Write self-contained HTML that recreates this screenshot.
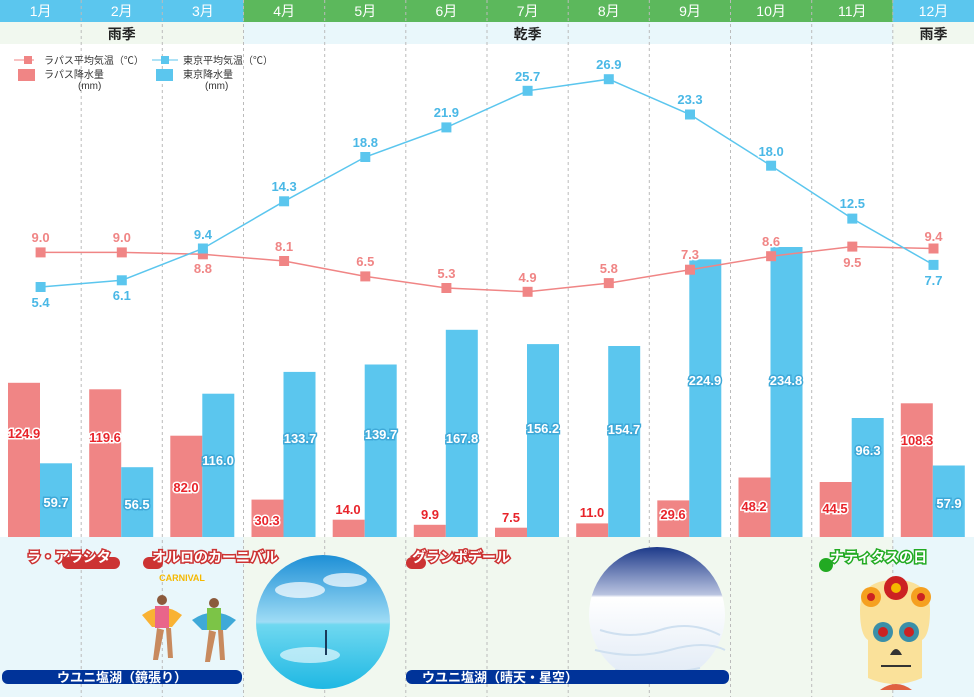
<!DOCTYPE html><html><head><meta charset="utf-8"><style>body{margin:0}svg{display:block;font-family:"Liberation Sans","Noto Sans CJK JP",sans-serif}</style></head><body>
<svg width="974" height="697" viewBox="0 0 974 697" xmlns="http://www.w3.org/2000/svg">
<defs>
<linearGradient id="sky" x1="0" y1="0" x2="0" y2="1"><stop offset="0" stop-color="#1d8fd6"/><stop offset="0.5" stop-color="#9fdcf5"/><stop offset="0.52" stop-color="#6fd8f0"/><stop offset="1" stop-color="#1fb8e3"/></linearGradient>
<linearGradient id="salt" x1="0" y1="0" x2="0" y2="1"><stop offset="0" stop-color="#1d3a8a"/><stop offset="0.35" stop-color="#b9c3e0"/><stop offset="0.37" stop-color="#ffffff"/><stop offset="1" stop-color="#dfe9f5"/></linearGradient>
</defs>
<rect width="974" height="697" fill="#fff"/>
<!-- header -->
<rect x="0" y="0" width="243.5" height="22" fill="#5bc6ee"/>
<rect x="243.5" y="0" width="649.3" height="22" fill="#5cb85c"/>
<rect x="892.8" y="0" width="81.2" height="22" fill="#5bc6ee"/>
<rect x="0" y="22" width="243.5" height="22" fill="#f1f8ef"/>
<rect x="243.5" y="22" width="649.3" height="22" fill="#e9f7fb"/>
<rect x="892.8" y="22" width="81.2" height="22" fill="#f1f8ef"/>
<!-- bottom area -->
<rect x="0" y="537" width="243.5" height="160" fill="#e9f7fb"/>
<rect x="243.5" y="537" width="649.3" height="160" fill="#f1f8ef"/>
<rect x="892.8" y="537" width="81.2" height="160" fill="#e9f7fb"/>
<g fill="#fff" font-size="14" text-anchor="middle">
<text x="40.6" y="16">1月</text><text x="121.8" y="16">2月</text><text x="202.9" y="16">3月</text><text x="284.1" y="16">4月</text><text x="365.3" y="16">5月</text><text x="446.4" y="16">6月</text><text x="527.6" y="16">7月</text><text x="608.8" y="16">8月</text><text x="690" y="16">9月</text><text x="771.1" y="16">10月</text><text x="852.3" y="16">11月</text><text x="933.5" y="16">12月</text>
</g>
<g font-size="14" font-weight="bold" fill="#222" text-anchor="middle">
<text x="121.8" y="39">雨季</text><text x="527.6" y="39">乾季</text><text x="933.5" y="39">雨季</text></g>
<!-- dashed lines -->
<g stroke="#bbb" stroke-dasharray="3,3" stroke-width="1">
<line x1="81.2" y1="0" x2="81.2" y2="697"/><line x1="162.3" y1="0" x2="162.3" y2="697"/><line x1="243.5" y1="0" x2="243.5" y2="697"/><line x1="324.7" y1="0" x2="324.7" y2="697"/><line x1="405.8" y1="0" x2="405.8" y2="697"/><line x1="487" y1="0" x2="487" y2="697"/><line x1="568.2" y1="0" x2="568.2" y2="697"/><line x1="649.3" y1="0" x2="649.3" y2="697"/><line x1="730.5" y1="0" x2="730.5" y2="697"/><line x1="811.7" y1="0" x2="811.7" y2="697"/><line x1="892.8" y1="0" x2="892.8" y2="697"/>
</g>
<!-- legend -->
<g font-size="10" fill="#333">
<line x1="14" y1="60" x2="34" y2="60" stroke="#f08585"/><rect x="24" y="56" width="8" height="8" fill="#f08585"/><text x="44" y="64">ラパス平均気温（℃）</text>
<rect x="18" y="69" width="17" height="12" fill="#f08585"/><text x="44" y="78">ラパス降水量</text><text x="78" y="89">(mm)</text>
<line x1="152" y1="60" x2="178" y2="60" stroke="#5bc6ee"/><rect x="161" y="56" width="8" height="8" fill="#5bc6ee"/><text x="183" y="64">東京平均気温（℃）</text>
<rect x="156" y="69" width="17" height="12" fill="#5bc6ee"/><text x="183" y="78">東京降水量</text><text x="205" y="89">(mm)</text>
</g>
<!-- bars: baseline 537, scale 1.235 -->
<g fill="#f08585">
<rect x="8" y="382.8" width="32" height="154.2"/><rect x="89.2" y="389.3" width="32" height="147.7"/><rect x="170.3" y="435.7" width="32" height="101.3"/><rect x="251.5" y="499.6" width="32" height="37.4"/><rect x="332.7" y="519.7" width="32" height="17.3"/><rect x="413.8" y="524.8" width="32" height="12.2"/><rect x="495" y="527.7" width="32" height="9.3"/><rect x="576.2" y="523.4" width="32" height="13.6"/><rect x="657.3" y="500.4" width="32" height="36.6"/><rect x="738.5" y="477.5" width="32" height="59.5"/><rect x="819.7" y="482" width="32" height="55"/><rect x="900.8" y="403.3" width="32" height="133.7"/>
</g>
<g fill="#5bc6ee">
<rect x="40" y="463.3" width="32" height="73.7"/><rect x="121.2" y="467.2" width="32" height="69.8"/><rect x="202.3" y="393.7" width="32" height="143.3"/><rect x="283.5" y="371.9" width="32" height="165.1"/><rect x="364.7" y="364.5" width="32" height="172.5"/><rect x="445.8" y="329.8" width="32" height="207.2"/><rect x="527" y="344.1" width="32" height="192.9"/><rect x="608.2" y="346" width="32" height="191"/><rect x="689.3" y="259.3" width="32" height="277.7"/><rect x="770.5" y="247" width="32" height="290"/><rect x="851.7" y="418" width="32" height="119"/><rect x="932.8" y="465.5" width="32" height="71.5"/>
</g>
<g font-size="13" font-weight="bold" text-anchor="middle" stroke="#fff" stroke-width="3" paint-order="stroke" fill="#e8242b">
<text x="24" y="438">124.9</text><text x="105" y="442">119.6</text><text x="186" y="492">82.0</text><text x="267" y="525">30.3</text><text x="348" y="514">14.0</text><text x="430" y="519">9.9</text><text x="511" y="522">7.5</text><text x="592" y="517">11.0</text><text x="673" y="519">29.6</text><text x="754" y="511">48.2</text><text x="835" y="513">44.5</text><text x="917" y="445">108.3</text>
</g>
<g font-size="13" font-weight="bold" text-anchor="middle" stroke="#3fa9d8" stroke-width="3" paint-order="stroke" fill="#fff">
<text x="56" y="507">59.7</text><text x="137" y="509">56.5</text><text x="218" y="465">116.0</text><text x="300" y="443">133.7</text><text x="381" y="439">139.7</text><text x="462" y="443">167.8</text><text x="543" y="433">156.2</text><text x="624" y="434">154.7</text><text x="705" y="385">224.9</text><text x="786" y="385">234.8</text><text x="868" y="455">96.3</text><text x="949" y="508">57.9</text>
</g>
<!-- lines -->
<polyline fill="none" stroke="#f08585" stroke-width="1.5" points="40.6,252.4 121.8,252.4 202.9,254.3 284.1,261 365.3,276.4 446.4,288 527.6,291.8 608.8,283.1 690,269.7 771.1,256.2 852.3,246.6 933.5,248.5"/>
<polyline fill="none" stroke="#5bc6ee" stroke-width="1.5" points="40.6,287 121.8,280.3 202.9,248.5 284.1,201.3 365.3,157 446.4,127.4 527.6,90.8 608.8,79.2 690,114.5 771.1,165.7 852.3,218.6 933.5,264.9"/>
<g fill="#f08585">
<rect x="35.6" y="247.4" width="10" height="10"/><rect x="116.8" y="247.4" width="10" height="10"/><rect x="197.9" y="249.3" width="10" height="10"/><rect x="279.1" y="256" width="10" height="10"/><rect x="360.3" y="271.4" width="10" height="10"/><rect x="441.4" y="283" width="10" height="10"/><rect x="522.6" y="286.8" width="10" height="10"/><rect x="603.8" y="278.1" width="10" height="10"/><rect x="685" y="264.7" width="10" height="10"/><rect x="766.1" y="251.2" width="10" height="10"/><rect x="847.3" y="241.6" width="10" height="10"/><rect x="928.5" y="243.5" width="10" height="10"/>
</g>
<g fill="#5bc6ee">
<rect x="35.6" y="282" width="10" height="10"/><rect x="116.8" y="275.3" width="10" height="10"/><rect x="197.9" y="243.5" width="10" height="10"/><rect x="279.1" y="196.3" width="10" height="10"/><rect x="360.3" y="152" width="10" height="10"/><rect x="441.4" y="122.4" width="10" height="10"/><rect x="522.6" y="85.8" width="10" height="10"/><rect x="603.8" y="74.2" width="10" height="10"/><rect x="685" y="109.5" width="10" height="10"/><rect x="766.1" y="160.7" width="10" height="10"/><rect x="847.3" y="213.6" width="10" height="10"/><rect x="928.5" y="259.9" width="10" height="10"/>
</g>
<g font-size="13" font-weight="bold" text-anchor="middle" fill="#f08585" stroke="#fff" stroke-width="3" paint-order="stroke">
<text x="40.6" y="242">9.0</text><text x="121.8" y="242">9.0</text><text x="202.9" y="273">8.8</text><text x="284.1" y="251">8.1</text><text x="365.3" y="266">6.5</text><text x="446.4" y="278">5.3</text><text x="527.6" y="282">4.9</text><text x="608.8" y="273">5.8</text><text x="690" y="259">7.3</text><text x="771.1" y="246">8.6</text><text x="852.3" y="267">9.5</text><text x="933.5" y="241">9.4</text>
</g>
<g font-size="13" font-weight="bold" text-anchor="middle" fill="#4ab8e6" stroke="#fff" stroke-width="3" paint-order="stroke">
<text x="40.6" y="307">5.4</text><text x="121.8" y="300">6.1</text><text x="202.9" y="239">9.4</text><text x="284.1" y="191">14.3</text><text x="365.3" y="147">18.8</text><text x="446.4" y="117">21.9</text><text x="527.6" y="81">25.7</text><text x="608.8" y="69">26.9</text><text x="690" y="104">23.3</text><text x="771.1" y="156">18.0</text><text x="852.3" y="208">12.5</text><text x="933.5" y="285">7.7</text>
</g>
<!-- events -->
<rect x="62" y="557" width="58" height="12" rx="6" fill="#cc3333"/>
<rect x="143" y="557" width="20" height="12" rx="6" fill="#cc3333"/>
<rect x="406" y="557" width="20" height="12" rx="6" fill="#cc3333"/>
<g font-size="14" font-weight="bold" fill="#fff" stroke="#cc3333" stroke-width="3" paint-order="stroke">
<text x="27" y="562">ラ・アラシタ</text><text x="152" y="562">オルロのカーニバル</text><text x="412" y="562">グランポデール</text>
</g>
<circle cx="826" cy="565" r="7" fill="#22aa22"/>
<text x="830" y="562" font-size="14" font-weight="bold" fill="#fff" stroke="#22aa22" stroke-width="3" paint-order="stroke">ナティタスの日</text>
<!-- carnival -->
<text x="182" y="581" font-size="9" font-weight="bold" fill="#f5b800" text-anchor="middle">CARNIVAL</text>
<g><circle cx="162" cy="600" r="5" fill="#8b5a3c"/><path d="M142 615 q20 -15 40 0 l-10 12 h-20z" fill="#f9b233"/><rect x="155" y="606" width="14" height="22" fill="#e9658a"/><path d="M157 628 l-4 32 h5 l6-30 z M166 628 l2 30 h5 l-2-30z" fill="#c88a5e"/></g>
<g><circle cx="214" cy="603" r="5" fill="#8b5a3c"/><path d="M192 620 q22 -15 44 0 l-10 10 h-24z" fill="#3fa9d8"/><rect x="207" y="608" width="14" height="22" fill="#7cc447"/><path d="M209 630 l-4 32 h5 l6-30 z M218 630 l2 30 h5 l-2-30z" fill="#c88a5e"/></g>
<!-- uyuni mirror -->
<circle cx="323" cy="622" r="67" fill="url(#sky)"/>
<ellipse cx="300" cy="590" rx="25" ry="8" fill="#fff" opacity="0.7"/><ellipse cx="345" cy="580" rx="22" ry="7" fill="#fff" opacity="0.7"/><ellipse cx="310" cy="655" rx="30" ry="8" fill="#fff" opacity="0.6"/>
<rect x="325" y="630" width="2" height="25" fill="#1a3a5a"/>
<!-- uyuni salt -->
<circle cx="657" cy="615" r="68" fill="url(#salt)"/>
<g stroke="#cfe0f0" fill="none" stroke-width="2"><path d="M600 630 q30 10 60 0 t60 5 M595 650 q40 10 75 0 t55 0 M615 670 q40 8 85 -2"/></g>
<!-- bars bottom -->
<rect x="2" y="670" width="240" height="14" rx="6" fill="#003399"/>
<text x="122" y="682" font-size="13" font-weight="bold" fill="#fff" text-anchor="middle">ウユニ塩湖（鏡張り）</text>
<rect x="406" y="670" width="323" height="14" rx="6" fill="#003399"/>
<text x="500" y="682" font-size="13" font-weight="bold" fill="#fff" text-anchor="middle">ウユニ塩湖（晴天・星空）</text>
<!-- skull -->
<g>
<path d="M860 610 q0 -30 35 -30 q35 0 35 30 q0 25 -8 30 v38 q-27 12 -54 0 v-38 q-8 -5 -8 -30z" fill="#fae19a"/>
<circle cx="883" cy="632" r="10" fill="#3b8fa8"/><circle cx="883" cy="632" r="5" fill="#cc2222"/>
<circle cx="909" cy="632" r="10" fill="#3b8fa8"/><circle cx="909" cy="632" r="5" fill="#cc2222"/>
<path d="M890 655 q6 -12 12 0z" fill="#333"/>
<line x1="881" y1="666" x2="911" y2="666" stroke="#333" stroke-width="2"/>
<circle cx="896" cy="588" r="12" fill="#cc2222"/><circle cx="896" cy="588" r="5" fill="#f5b800"/>
<circle cx="871" cy="597" r="10" fill="#f5a020"/><circle cx="871" cy="597" r="4" fill="#cc2222"/>
<circle cx="921" cy="597" r="10" fill="#f5a020"/><circle cx="921" cy="597" r="4" fill="#cc2222"/>
<path d="M880 690 q16 -12 32 0z" fill="#e06040"/>
</g>
</svg>
</body></html>
